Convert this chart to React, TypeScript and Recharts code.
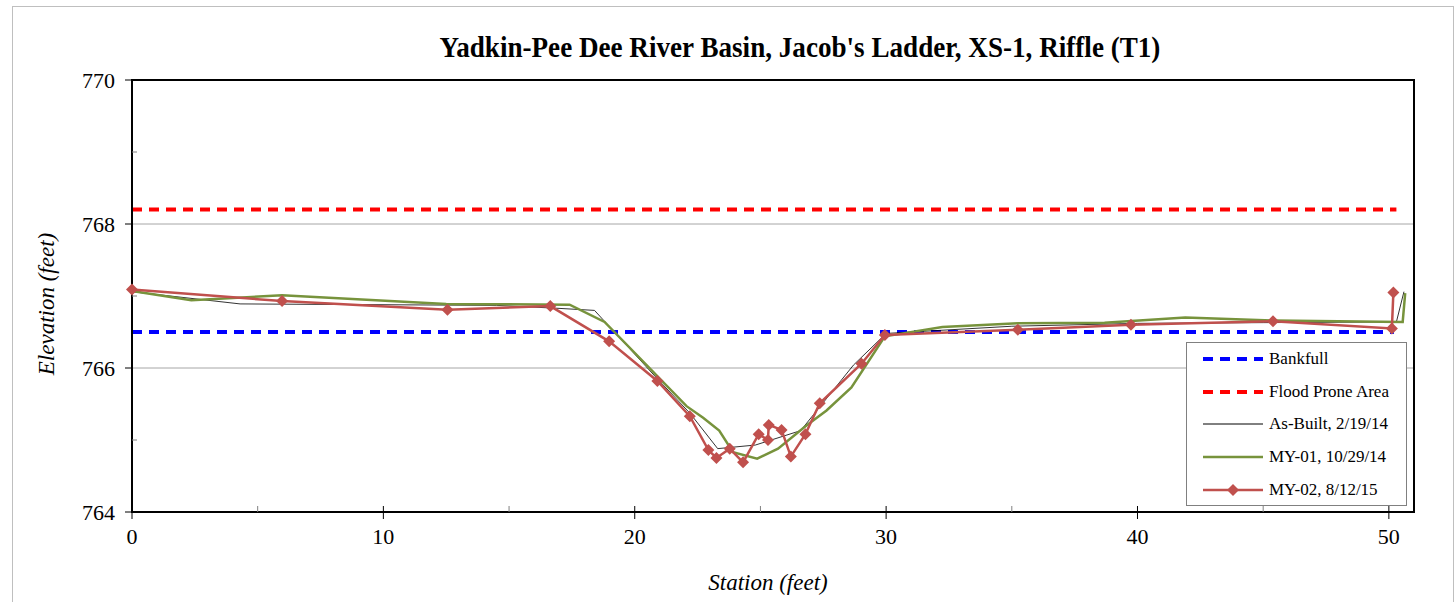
import { LineChart, Line, XAxis, YAxis, CartesianGrid, ReferenceArea } from "recharts";

const seriesNames = [
  "Bankfull",
  "Flood Prone Area",
  "As-Built, 2/19/14",
  "MY-01, 10/29/14",
  "MY-02, 8/12/15",
];

// every 5 ft on x, every 1 ft on y; labels only on the majors
const xTicks = [0, 5, 10, 15, 20, 25, 30, 35, 40, 45, 50];
const yTicks = [764, 765, 766, 767, 768, 769, 770];
const yGrid = [766, 768];

const bankfullStation = [0, 50.2];
const bankfullElev = [766.5, 766.5];

const floodStation = [0, 50.3];
const floodElev = [768.2, 768.2];

const asBuiltStation = [0, 4.3, 14.5, 16.9, 18.4, 20.9, 22.2, 23.3, 24.8, 26.6, 28.7, 30.0, 35.0, 40.0, 45.0, 50.3, 50.6];
const asBuiltElev = [767.06, 766.89, 766.87, 766.83, 766.8, 765.85, 765.37, 764.88, 764.93, 765.13, 766.04, 766.48, 766.58, 766.62, 766.63, 766.64, 767.06];

const my01Station = [0, 2.36, 5.97, 12.5, 17.41, 18.8, 22.06, 22.72, 23.36, 23.91, 24.87, 25.7, 26.83, 27.63, 28.62, 29.95, 32.24, 35.24, 38.69, 41.9, 45.42, 50.55, 50.65];
const my01Elev = [767.07, 766.94, 767.01, 766.89, 766.88, 766.64, 765.47, 765.31, 765.13, 764.83, 764.74, 764.88, 765.2, 765.41, 765.73, 766.44, 766.57, 766.62, 766.63, 766.7, 766.66, 766.64, 767.04];

const my02Station = [0, 5.97, 12.55, 16.64, 18.98, 20.9, 22.19, 22.93, 23.25, 23.78, 24.31, 24.93, 25.3, 25.33, 25.84, 26.21, 26.79, 27.36, 29.02, 29.95, 35.24, 39.74, 45.39, 50.12, 50.18];
const my02Elev = [767.09, 766.93, 766.81, 766.86, 766.37, 765.82, 765.33, 764.86, 764.75, 764.88, 764.69, 765.08, 765.0, 765.21, 765.14, 764.77, 765.08, 765.51, 766.06, 766.46, 766.53, 766.6, 766.65, 766.55, 767.05];

const zip = (xs: number[], ys: number[]) => xs.map((x, i) => ({ x, y: ys[i] }));

const FONT = '"Liberation Serif", "DejaVu Serif", "Times New Roman", serif';
const MY02_COLOR = "#C0504D";
const MY01_COLOR = "#77933C";

// diamond marker for MY-02
function Diamond(props: any) {
  const { cx, cy } = props;
  if (cx == null || cy == null) return null;
  const r = 6;
  return (
    <path
      d={`M${cx},${cy - r}L${cx + r},${cy}L${cx},${cy + r}L${cx - r},${cy}Z`}
      fill={MY02_COLOR}
    />
  );
}

// x ticks: majors cross the axis and get a label, minors point up into the plot
function XTick(props: any) {
  const { x, y, payload } = props;
  const v = payload.value;
  const major = v % 10 === 0;
  return (
    <g>
      <line x1={x} x2={x} y1={y - 6} y2={major ? y + 7 : y} stroke={major ? "#000" : "#808080"} />
      {major && (
        <text x={x} y={y + 32} textAnchor="middle" fill="#000" fontSize={22} fontFamily={FONT}>
          {v}
        </text>
      )}
    </g>
  );
}

// y ticks: majors outward with label, minors inward
function YTick(props: any) {
  const { x, y, payload } = props;
  const v = payload.value;
  const major = v % 2 === 0;
  return (
    <g>
      {major ? (
        <line x1={x - 7} x2={x} y1={y} y2={y} stroke="#000" />
      ) : (
        <line x1={x} x2={x + 5} y1={y} y2={y} stroke="#808080" />
      )}
      {major && (
        <text x={x - 17} y={y} dy="0.35em" textAnchor="end" fill="#000" fontSize={22} fontFamily={FONT}>
          {v}
        </text>
      )}
    </g>
  );
}

const legendItems = [
  { name: seriesNames[0], color: "#0000FF", width: 4, dash: "10 7", marker: false },
  { name: seriesNames[1], color: "#FF0000", width: 4, dash: "10 7", marker: false },
  { name: seriesNames[2], color: "#000000", width: 1, dash: undefined, marker: false },
  { name: seriesNames[3], color: MY01_COLOR, width: 2.5, dash: undefined, marker: false },
  { name: seriesNames[4], color: MY02_COLOR, width: 2.5, dash: undefined, marker: true },
];

export default function App() {
  return (
    <div style={{ position: "absolute", left: 0, top: 0, width: 1456, height: 602, background: "#fff", fontFamily: FONT }}>
      <div
        style={{
          position: "absolute",
          left: 12,
          top: 6,
          width: 1440,
          height: 620,
          border: "1px solid #bfbfbf",
        }}
      />
      <div style={{ position: "absolute", left: 0, top: 0 }}>
        <LineChart width={1456} height={602} margin={{ top: 80, right: 42, bottom: 50, left: 72 }}>
          <CartesianGrid vertical={false} horizontalValues={yGrid} stroke="#a6a6a6" strokeWidth={1} />
          <XAxis
            dataKey="x"
            type="number"
            domain={[0, 51]}
            ticks={xTicks}
            height={40}
            tickSize={0}
            tickMargin={0}
            axisLine={{ stroke: "#000", strokeWidth: 2 }}
            tickLine={false}
            tick={XTick}
            interval={0}
          />
          <YAxis
            type="number"
            domain={[764, 770]}
            ticks={yTicks}
            width={60}
            tickSize={0}
            tickMargin={0}
            axisLine={{ stroke: "#000", strokeWidth: 2 }}
            tickLine={false}
            tick={YTick}
            interval={0}
          />
          <Line
            data={zip(bankfullStation, bankfullElev)}
            dataKey="y"
            name={seriesNames[0]}
            type="linear"
            stroke="#0000FF"
            strokeWidth={4}
            strokeDasharray="10 7"
            dot={false}
            isAnimationActive={false}
          />
          <Line
            data={zip(floodStation, floodElev)}
            dataKey="y"
            name={seriesNames[1]}
            type="linear"
            stroke="#FF0000"
            strokeWidth={4}
            strokeDasharray="10 7"
            dot={false}
            isAnimationActive={false}
          />
          <Line
            data={zip(asBuiltStation, asBuiltElev)}
            dataKey="y"
            name={seriesNames[2]}
            type="linear"
            stroke="#000000"
            strokeWidth={0.8}
            dot={false}
            isAnimationActive={false}
          />
          <Line
            data={zip(my01Station, my01Elev)}
            dataKey="y"
            name={seriesNames[3]}
            type="linear"
            stroke={MY01_COLOR}
            strokeWidth={2.5}
            dot={false}
            isAnimationActive={false}
          />
          <Line
            data={zip(my02Station, my02Elev)}
            dataKey="y"
            name={seriesNames[4]}
            type="linear"
            stroke={MY02_COLOR}
            strokeWidth={2.5}
            dot={<Diamond />}
            activeDot={false}
            isAnimationActive={false}
          />
          {/* plot area frame */}
          <ReferenceArea x1={0} x2={51} y1={764} y2={770} fill="none" stroke="#000" strokeWidth={2} />
        </LineChart>
      </div>

      <div
        style={{
          position: "absolute",
          left: 800,
          top: 31,
          transform: "translateX(-50%) scaleX(0.935)",
          whiteSpace: "nowrap",
          fontSize: 29,
          lineHeight: "32px",
          fontWeight: "bold",
        }}
      >
        Yadkin-Pee Dee River Basin, Jacob's Ladder, XS-1, Riffle (T1)
      </div>
      <div
        style={{
          position: "absolute",
          left: 47,
          top: 304,
          transform: "translate(-50%, -50%) rotate(-90deg)",
          whiteSpace: "nowrap",
          fontSize: 23,
          fontStyle: "italic",
        }}
      >
        Elevation (feet)
      </div>
      <div
        style={{
          position: "absolute",
          left: 768,
          top: 583,
          transform: "translate(-50%, -50%)",
          whiteSpace: "nowrap",
          fontSize: 23,
          fontStyle: "italic",
        }}
      >
        Station (feet)
      </div>

      <div
        style={{
          position: "absolute",
          left: 1186,
          top: 342,
          width: 219,
          height: 162,
          border: "1px solid #808080",
          background: "#fff",
        }}
      >
        {legendItems.map((item, i) => (
          <div
            key={item.name}
            style={{
              position: "absolute",
              left: 0,
              top: 16 + i * 32.7 - 11,
              height: 22,
              display: "flex",
              alignItems: "center",
              whiteSpace: "nowrap",
              fontSize: 17,
            }}
          >
            <svg width={82} height={22}>
              <line
                x1={16}
                x2={76}
                y1={11}
                y2={11}
                stroke={item.color}
                strokeWidth={item.width}
                strokeDasharray={item.dash}
              />
              {item.marker && <path d="M46,5L52,11L46,17L40,11Z" fill={item.color} />}
            </svg>
            <span>{item.name}</span>
          </div>
        ))}
      </div>
    </div>
  );
}
